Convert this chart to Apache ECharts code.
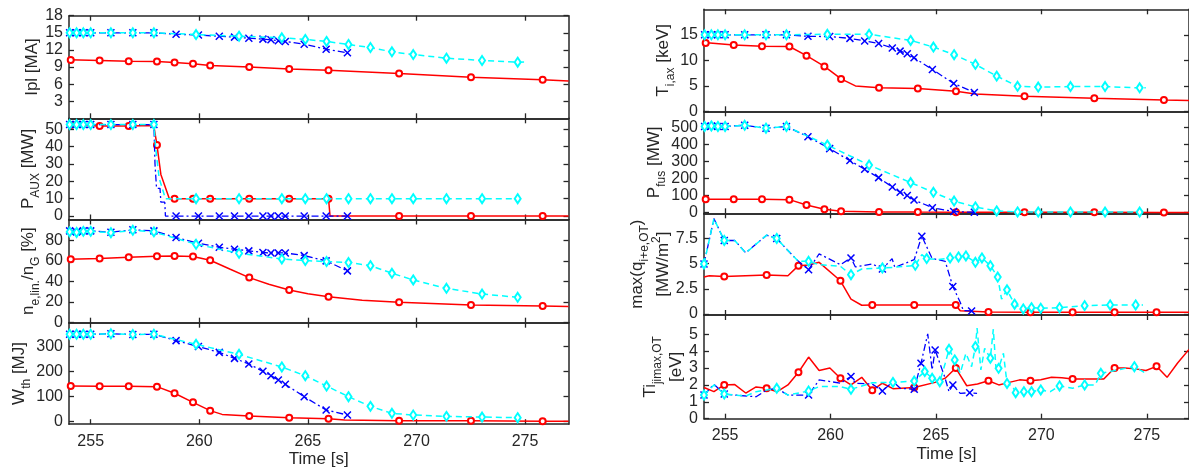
<!DOCTYPE html>
<html><head><meta charset="utf-8">
<script src="https://cdn.jsdelivr.net/npm/echarts@6/dist/echarts.min.js"></script>
<style>html,body{margin:0;padding:0;background:#fff}#c{width:1189px;height:472px}</style>
</head><body><div id="c"></div>
<script>
// ---------- tick labels ----------
const xTicks = [255, 260, 265, 270, 275];
const ipTicks = [3, 6, 9, 12, 15, 18];
const auxTicks = [0, 10, 20, 30, 40, 50];
const neTicks = [0, 20, 40, 60, 80];
const wTicks = [0, 100, 200, 300];
const tiTicks = [0, 5, 10, 15];
const pfTicks = [0, 100, 200, 300, 400, 500];
const qTicks = [0, 2.5, 5, 7.5];
const tjTicks = [0, 1, 2, 3, 4, 5];

// ---------- marker times ----------
const redMk = [254.08, 255.41, 256.75, 258.05, 258.86, 259.71, 260.5, 262.3, 264.14, 265.95, 269.2, 272.51, 275.81];
const blueMk = [254.03, 254.35, 254.66, 255.0, 255.93, 256.94, 257.91, 258.93, 259.96, 260.92, 261.62, 262.28, 262.93, 263.3, 263.64, 263.96, 264.83, 265.84, 266.82];
const cyanMk = [254.03, 254.35, 254.66, 255.0, 255.93, 256.94, 257.91, 259.85, 261.83, 263.8, 264.88, 265.86, 266.87, 267.88, 268.87, 269.85, 271.38, 273.02, 274.66];
const divRedMk = [254.96, 256.97, 258.48, 260.47, 261.98, 263.97, 265.94, 267.49, 269.48, 271.48, 273.47, 275.46];
const qBlueMk = [254.0, 254.96, 257.45, 258.96, 260.97, 262.46, 264.33, 265.8, 266.69];
const qCyanMk = [254.0, 254.96, 257.45, 258.96, 260.97, 262.46, 264.02, 264.56, 265.67, 266.07, 266.42, 266.87, 267.18, 267.58, 267.93, 268.37, 268.73, 269.14, 269.53, 269.97, 270.86, 272.05, 273.26, 274.47];
const tjBlueMk = [254.0, 254.96, 258.96, 260.97, 262.46, 263.97, 264.29, 264.96, 265.8, 266.6];
const tjCyanMk = [254.0, 254.96, 257.45, 258.96, 260.97, 262.96, 263.97, 264.47, 264.82, 265.18, 265.62, 265.89, 266.87, 267.58, 267.97, 268.37, 268.78, 269.17, 269.53, 269.97, 270.86, 272.05, 272.82, 274.41];

// ---------- series values [time s, value] ----------
const ipRed = [[254.0,10.27],[254.08,10.25],[255.41,10.14],[256.75,10.02],[258.05,9.96],[258.86,9.79],[259.71,9.55],[260.5,9.28],[262.3,9.02],[264.14,8.67],[265.95,8.44],[269.2,7.85],[272.51,7.22],[275.81,6.75],[277.0,6.55]];
const ipBlue = [[254.0,15.0],[254.03,15.0],[254.35,15.0],[254.66,15.0],[255.0,15.0],[255.93,15.0],[256.94,15.0],[257.91,15.0],[258.93,14.75],[259.96,14.6],[260.92,14.41],[261.62,14.24],[262.28,14.06],[262.93,13.89],[263.3,13.77],[263.64,13.6],[263.96,13.48],[264.83,13.0],[265.84,12.13],[266.82,11.5]];
const ipCyan = [[254.03,15.0],[254.35,15.0],[254.66,15.0],[255.0,15.0],[255.93,15.0],[256.94,15.0],[257.91,15.0],[259.85,14.7],[261.83,14.41],[263.8,14.12],[264.88,13.83],[265.86,13.48],[266.87,12.95],[267.88,12.42],[268.87,11.66],[269.85,11.19],[271.38,10.55],[273.02,10.14],[274.66,9.84],[275.1,9.9]];

const auxRed = [[254.0,52.5],[254.08,52.5],[255.41,52.0],[256.75,52.0],[257.9,52.3],[258.05,41],[258.23,24],[258.62,10],[258.86,10],[259.71,10],[260.5,10],[262.3,10],[264.14,10],[265.95,10],[266.02,0],[269.2,0],[272.51,0],[275.81,0],[277.0,0]];
const auxBlue = [[254.0,52.8],[254.03,52.8],[254.35,52.8],[254.66,52.8],[255.0,52.8],[255.93,52.8],[256.94,52.8],[257.91,52.8],[257.96,30],[258.03,16],[258.19,16],[258.23,8],[258.41,8],[258.44,0],[258.93,0],[259.96,0],[260.92,0],[261.62,0],[262.28,0],[262.93,0],[263.3,0],[263.64,0],[263.96,0],[264.83,0],[265.84,0],[266.82,0]];
const auxCyan = [[254.03,52.8],[254.35,52.8],[254.66,52.8],[255.0,52.8],[255.93,52.8],[256.94,52.8],[257.91,52.8],[258.0,38],[258.15,22],[258.44,10],[259.85,10],[261.83,10],[263.8,10],[264.88,10],[265.86,10],[266.87,10],[267.88,10],[268.87,10],[269.85,10],[271.38,10],[273.02,10],[274.66,10],[274.8,10]];

const neRed = [[254.0,61.5],[254.08,61.5],[255.41,62.1],[256.75,63.4],[258.05,64.4],[258.86,64.7],[259.71,64.1],[260.5,60.5],[261.4,52.0],[262.3,43.7],[263.2,37.2],[264.14,31.7],[265.0,28.0],[265.95,25.2],[267.5,21.8],[269.2,19.7],[272.51,17.2],[275.81,16.2],[277.0,15.8]];
const neBlue = [[254.0,90],[254.03,89],[254.35,88],[254.66,89],[255.0,89],[255.93,87.7],[256.94,90],[257.91,89],[258.93,82.5],[259.96,77],[260.92,73.1],[261.62,71.2],[262.28,69.6],[262.93,68],[263.3,67.6],[263.64,67.6],[263.96,67.6],[264.83,65],[265.84,59.9],[266.82,50.2]];
const neCyan = [[254.03,88],[254.35,87.5],[254.66,88.5],[255.0,88.5],[255.93,87.2],[256.94,89.5],[257.91,88],[259.85,76],[261.83,67.3],[263.8,61.8],[264.88,60.2],[265.86,59.2],[266.87,58.3],[267.88,55.3],[268.87,47.9],[269.85,41.4],[271.38,33.3],[273.02,27.8],[274.66,24.6],[274.8,24.5]];

const wRed = [[254.0,142],[254.08,142],[255.41,141],[256.75,141],[258.05,139.5],[258.86,113],[259.71,77],[260.5,44],[261.05,29],[262.3,22.6],[264.14,16],[265.95,12],[266.7,7],[269.2,4],[272.51,3.5],[275.81,2],[277.0,1.5]];
const wBlue = [[254.0,348],[254.03,348],[254.35,348],[254.66,348],[255.0,348],[255.93,350],[256.94,347],[257.91,348],[258.93,322.7],[259.96,299],[260.92,276],[261.62,252],[262.28,229.7],[262.93,200.5],[263.3,183],[263.64,166],[263.96,148.7],[264.83,99.6],[265.84,46.5],[266.82,26.6]];
const wCyan = [[254.03,348],[254.35,348],[254.66,348],[255.0,348],[255.93,350],[256.94,347],[257.91,348],[259.85,308],[261.83,268],[263.8,217.8],[264.88,183],[265.86,142],[266.87,99.6],[267.88,61],[268.87,33.2],[269.85,26.6],[271.38,21.2],[273.02,18.6],[274.66,16],[274.8,16]];

const tiRed = [[254.0,13.5],[254.08,13.4],[255.41,13.0],[256.75,12.75],[258.05,12.7],[258.86,10.9],[259.71,8.8],[260.5,6.35],[261.18,4.98],[262.3,4.6],[264.14,4.45],[265.95,3.93],[266.87,3.4],[269.2,2.95],[272.51,2.55],[275.81,2.2],[277.0,2.1]];
const tiBlue = [[254.0,15],[254.03,15],[254.35,15],[254.66,15],[255.0,15],[255.93,15],[256.94,15],[257.91,15],[258.93,14.7],[259.96,14.65],[260.92,14.3],[261.62,13.8],[262.28,13.3],[262.93,12.4],[263.3,11.8],[263.64,11.3],[263.96,10.5],[264.83,8.2],[265.84,5.45],[266.82,3.7]];
const tiCyan = [[254.03,15],[254.35,15],[254.66,15],[255.0,15],[255.93,15],[256.94,15],[257.91,15],[259.85,15.1],[261.83,15.1],[263.8,13.9],[264.88,12.6],[265.86,11.1],[266.87,9.2],[267.88,6.9],[268.87,4.9],[269.85,4.75],[271.38,4.85],[273.02,4.85],[274.66,4.6],[274.95,4.6]];

const pfRed = [[254.0,78],[254.08,78],[255.41,78],[256.75,78],[258.05,76],[258.86,45],[259.71,19.5],[260.5,8],[262.3,4],[264.14,3],[265.95,2.5],[269.2,2],[272.51,1.5],[275.81,1],[277.0,1]];
const pfBlue = [[254.0,505],[254.03,505],[254.35,508],[254.66,505],[255.0,505],[255.93,512],[256.94,495],[257.91,505],[258.93,445],[259.96,375],[260.92,305],[261.62,254],[262.28,205],[262.93,150],[263.3,119],[263.64,100],[263.96,74],[264.83,29],[265.84,6],[266.82,2]];
const pfCyan = [[254.03,505],[254.35,508],[254.66,505],[255.0,505],[255.93,512],[256.94,495],[257.91,505],[259.85,396],[261.83,279],[263.8,176],[264.88,119],[265.86,68],[266.87,33],[267.88,10],[268.87,4],[269.85,3],[271.38,3],[273.02,3],[274.66,3],[274.8,3]];

const qRed = [[254.0,3.67],[254.25,3.8],[254.96,3.73],[256.97,3.87],[257.98,3.8],[258.48,4.8],[258.96,4.87],[259.46,5.13],[260.47,3.3],[260.97,1.47],[261.48,0.87],[261.98,0.9],[263.97,0.9],[265.94,0.9],[266.15,0.33],[267.49,0.2],[269.48,0.17],[271.48,0.17],[273.47,0.17],[275.46,0.17],[277.0,0.17]];
const qBlue = [[254.0,4.97],[254.47,9.47],[254.96,7.3],[255.46,7.3],[255.98,6.07],[256.97,7.83],[257.45,7.5],[257.98,6.3],[258.48,5.23],[258.96,4.4],[259.46,5.97],[260.47,4.9],[260.97,5.57],[261.18,4.67],[261.98,4.97],[262.46,4.47],[262.92,5.5],[263.05,4.63],[263.97,5.4],[264.33,7.73],[264.82,5.5],[265.09,5.4],[265.44,5.23],[265.8,2.73],[266.15,1.17],[266.3,0.33],[266.69,0.3]];
const qCyan = [[254.0,4.97],[254.47,9.47],[254.96,7.3],[255.46,7.3],[255.98,6.07],[256.97,7.83],[257.45,7.5],[257.98,6.3],[258.48,5.23],[258.96,5.23],[259.46,4.9],[260.47,4.73],[260.97,3.9],[261.48,4.47],[262.46,4.57],[262.96,4.63],[264.02,4.83],[264.33,5.9],[264.56,5.5],[265.09,5.4],[265.67,5.57],[266.07,5.67],[266.42,5.77],[266.87,5.13],[267.18,5.57],[267.58,4.8],[267.93,3.67],[268.11,1.47],[268.37,2.4],[268.73,0.97],[269.14,0.5],[269.53,0.63],[269.97,0.57],[270.86,0.63],[272.05,0.83],[273.26,0.9],[274.47,0.9],[274.82,0.9]];

const tjRed = [[254.0,1.85],[254.47,1.6],[254.96,2.0],[255.46,2.02],[255.98,1.52],[256.47,1.88],[256.97,1.8],[257.47,1.6],[257.98,2.0],[258.48,2.75],[258.96,3.65],[259.46,2.85],[259.97,3.0],[260.47,2.4],[260.97,2.0],[261.48,2.45],[261.98,1.68],[262.46,2.1],[262.96,1.78],[263.97,1.85],[264.96,2.15],[265.44,2.4],[265.94,3.0],[266.46,1.95],[266.97,2.05],[267.49,2.25],[267.98,2.0],[268.48,2.15],[268.97,2.3],[269.48,2.25],[269.97,2.3],[270.48,2.45],[270.97,2.42],[271.48,2.35],[271.97,2.35],[272.96,2.35],[273.47,3.0],[273.96,3.0],[274.46,2.95],[274.96,2.85],[275.46,3.1],[275.96,2.45],[276.46,3.3],[277.0,4.1]];
const tjBlue = [[254.0,1.4],[254.47,2.04],[254.96,1.46],[255.46,1.4],[256.47,1.3],[256.97,1.7],[257.45,1.8],[257.98,1.4],[258.96,1.4],[259.46,2.3],[259.99,2.2],[260.47,2.1],[260.97,2.5],[261.18,2.1],[261.98,2.05],[262.46,1.64],[262.96,2.2],[263.31,1.8],[263.97,1.74],[264.29,3.28],[264.61,5.02],[264.82,2.89],[264.96,4.07],[265.41,2.49],[265.62,1.6],[265.8,2.0],[266.15,1.5],[266.6,1.54],[266.95,1.5]];
const tjCyan = [[254.0,1.4],[254.47,2.0],[254.96,1.46],[255.98,1.34],[256.47,1.6],[257.45,1.8],[257.98,1.4],[258.96,1.64],[259.46,1.9],[260.47,1.9],[260.97,1.74],[261.98,2.13],[262.96,2.15],[263.97,2.23],[264.47,2.79],[264.82,2.39],[265.18,2.19],[265.44,3.28],[265.62,4.11],[265.89,3.48],[266.15,2.69],[266.42,3.87],[266.69,3.08],[266.87,4.27],[266.95,5.36],[267.13,2.89],[267.31,4.17],[267.58,3.58],[267.72,5.3],[267.84,3.08],[267.97,2.98],[268.2,3.87],[268.37,2.09],[268.64,1.9],[268.78,1.54],[269.17,1.6],[269.53,1.6],[269.97,1.7],[270.42,1.6],[270.86,1.94],[271.48,1.8],[272.05,2.0],[272.55,2.0],[272.82,2.69],[273.26,2.79],[273.97,2.98],[274.41,3.08],[274.95,2.69]];

// ---------- layout / style ----------
const FONT = '"Liberation Sans", Arial, Helvetica, sans-serif';
const AX = '#262626';
const panels = [
  {box:[69,15.7,499.5,102.6], y:[0,18], ticks:ipTicks, name:'{m|Ipl [MA]}', gap:20, s:[[ipRed,redMk],[ipBlue,blueMk],[ipCyan,cyanMk]]},
  {box:[69,118.3,499.5,101.2], y:[-2,56.4], ticks:auxTicks, name:'{m|P}{s|AUX}{m| [MW]}', gap:24, s:[[auxRed,redMk],[auxBlue,blueMk],[auxCyan,cyanMk]]},
  {box:[69,219.5,499.5,103.2], y:[0,100], ticks:neTicks, name:'{m|n}{s|e,lin.}{m|/n}{s|G}{m| [%]}', gap:24, s:[[neRed,redMk],[neBlue,blueMk],[neCyan,cyanMk]]},
  {box:[69,322.7,499.5,101.5], y:[-10,394], ticks:wTicks, name:'{m|W}{s|th}{m| [MJ]}', gap:33, bottom:true, s:[[wRed,redMk],[wBlue,blueMk],[wCyan,cyanMk]]},
  {box:[704,9.3,486,102], y:[0,20], ticks:tiTicks, name:'{m|T}{s|i,ax}{m| [keV]}', gap:27, s:[[tiRed,redMk],[tiBlue,blueMk],[tiCyan,cyanMk]]},
  {box:[704,111.3,486,102], y:[-4,594], ticks:pfTicks, name:'{m|P}{s|fus}{m| [MW]}', gap:36, s:[[pfRed,redMk],[pfBlue,blueMk],[pfCyan,cyanMk]]},
  {box:[704,213.3,486,101.7], y:[-0.1,10], ticks:qTicks, name:'{m|max(q}{s|i+e,OT}{m|)}\n{m|[MW/m}{p|2}{m|]}', gap:25, s:[[qRed,divRedMk],[qBlue,qBlueMk],[qCyan,qCyanMk]]},
  {box:[704,315,486,103.7], y:[0,6.14], ticks:tjTicks, name:'{m|Ti}{s|jimax,OT}\n{m|[eV]}', gap:14, bottom:true, s:[[tjRed,divRedMk],[tjBlue,tjBlueMk],[tjCyan,tjCyanMk]]}
];
const STY = [
  {color:'#ff0000', w:1.5, dash:'solid', symbol:'emptyCircle', size:6, fill:'#ff0000', bw:1.2},
  {color:'#0000ff', w:1.3, dash:[7,3,2,3], symbol:'path://M0,0L10,10M0,10L10,0', size:7, fill:'#0000ff', bw:1.5},
  {color:'#00ffff', w:1.5, dash:[6,4], symbol:'emptyDiamond', size:[6,9], fill:'#00ffff', bw:1.2}
];
const rich = {
  m:{fontSize:17, lineHeight:26, color:AX, fontFamily:FONT},
  s:{fontSize:12, lineHeight:12, verticalAlign:'bottom', color:AX, fontFamily:FONT},
  p:{fontSize:12, lineHeight:12, verticalAlign:'top', color:AX, fontFamily:FONT}
};
const lineAx = {show:true, onZero:false, lineStyle:{color:AX, width:1.5}};
const grid = [], xAxis = [], yAxis = [], series = [];
panels.forEach((p, g) => {
  grid.push({left:p.box[0], top:p.box[1], width:p.box[2], height:p.box[3], containLabel:false});
  const tick = v => ({show:true, inside:true, length:5, customValues:v, lineStyle:{color:AX, width:1.3}});
  xAxis.push({gridIndex:g, type:'value', min:254, max:277, position:'bottom', axisLine:lineAx, axisTick:tick(xTicks),
    axisLabel:{show:!!p.bottom, customValues:xTicks, fontSize:16, color:AX, fontFamily:FONT, margin:9},
    splitLine:{show:false}, name:p.bottom?'Time [s]':'', nameLocation:'middle', nameGap:27,
    nameTextStyle:{fontSize:17, color:AX, fontFamily:FONT}});
  xAxis.push({gridIndex:g, type:'value', min:254, max:277, position:'top', axisLine:lineAx, axisTick:tick(xTicks),
    axisLabel:{show:false}, splitLine:{show:false}});
  yAxis.push({gridIndex:g, type:'value', min:p.y[0], max:p.y[1], position:'left', axisLine:lineAx, axisTick:tick(p.ticks),
    axisLabel:{customValues:p.ticks, fontSize:16, color:AX, fontFamily:FONT, margin:6},
    splitLine:{show:false}, name:p.name, nameLocation:'middle', nameRotate:90, nameGap:p.gap,
    nameTextStyle:{fontSize:17, color:AX, fontFamily:FONT, rich:rich}});
  yAxis.push({gridIndex:g, type:'value', min:p.y[0], max:p.y[1], position:'right', axisLine:lineAx, axisTick:tick(p.ticks),
    axisLabel:{show:false}, splitLine:{show:false}});
  p.s.forEach(([data, marks], k) => {
    const st = STY[k];
    series.push({
      type:'line', xAxisIndex:g*2, yAxisIndex:g*2, z:2+k,
      data:data.map(pt => ({value:pt, symbol: marks.some(m => Math.abs(m - pt[0]) < 0.005) ? st.symbol : 'none'})),
      symbol:st.symbol, symbolSize:st.size, showSymbol:true, showAllSymbol:true,
      lineStyle:{color:st.color, width:st.w, type:st.dash},
      itemStyle:{color:st.fill, borderColor:st.color, borderWidth:st.bw},
      emphasis:{disabled:true}, silent:true, animation:false
    });
  });
});
const chart = echarts.init(document.getElementById('c'), null, {renderer:'canvas'});
chart.setOption({backgroundColor:'#ffffff', animation:false, grid, xAxis, yAxis, series});
</script></body></html>
